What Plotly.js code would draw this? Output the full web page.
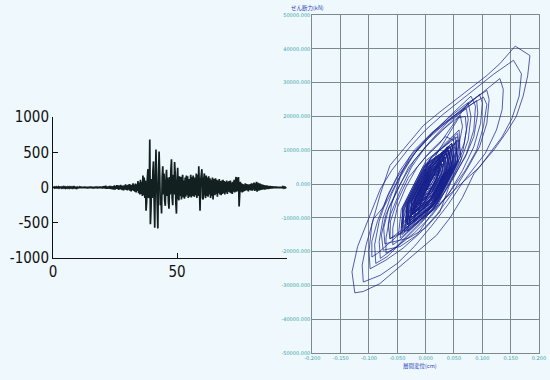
<!DOCTYPE html>
<html>
<head>
<meta charset="utf-8">
<script src="https://cdn.plot.ly/plotly-3.0.1.min.js"></script>
<style>html,body{margin:0;padding:0;background:#eef8fd;}#chart{width:550px;height:380px;}</style>
</head>
<body>
<div id="chart"></div>
<script>
// ---------- Left chart: acceleration time history (gal), sample step 0.25 s ----------
const dt = 0.25;
const acc = [
  0,4,-6,5, -4,7,-5,3, -6,8,-7,4, -3,6,-8,5, -6,9,-5,7,
  -8,6,-4,8, -7,5,-9,6, -5,8,-6,4, -9,7,-5,8, -6,10,-8,5,
  -7,9,-10,6, -8,11,-7,9, -10,8,-9,12, -7,10,-11,8, -12,9,-8,11,
  -9,13,-10,8, -11,10,-13,9, -8,12,-10,14, -13,11,-9,12, -10,15,-12,10,
  -14,18,-12,20, -16,25,-18,14, -20,16,-15,22, -18,24,-22,17, -25,20,-28,30,
  -30,22,-18,35, -24,30,-35,26, -20,38,-30,25, -36,28,-40,32, -28,45,-34,30,
  -42,36,-30,50, -45,40,-55,35, -38,60,-48,42, -60,55,-70,45, -50,90,-80,70,
  -100,110,-90,80, -120,170,-110,140, -150,100,-330,-200, 120,260,-150,-100,
  680,-520,-300,120, -150,230,370,-200, -570,120,540,100, -300,-580,150,510,
  200,-250,-150,-370, 150,300,-100,200, -180,-260,100,250, -120,140,-200,-300,
  150,-100,250,400, -150,-250,180,-100, 360,200,-220,-370, 100,280,-150,-180,
  160,-120,150,-170, 120,180,-140,100, -160,140,-130,170, -110,160,-150,120,
  -130,110,180,-140, 150,-120,170,-100, -130,140,-110,200, -150,180,-120,300,
  -200,-330,100,200, 260,-150,-170,120, 200,-100,-150,170, -120,140,-130,160,
  -100,130,-150,110, -120,140,-170,100, 120,-110,130,-90, 110,-130,100,-80,
  120,-100,90,-110, 100,-90,110,-80, 90,-100,80,-70, 100,-90,80,-60,
  90,-70,100,-80, 70,-90,80,-60, 110,-70,90,150, -60,140,-50,150,
  -270,-120,80,-60, 60,-70,50,-60, 40,-50,60,-40, 50,-40,45,-55,
  40,-35,50,-40, 60,-45,55,-30, 70,-50,60,-40, 80,-60,70,-45,
  60,-40,55,-35, 45,-30,40,-25, 35,-30,30,-25, 30,-20,25,-22,
  20,-18,22,-15, 18,-15,16,-12, 14,-12,15,-10, 12,-10,11,-9,
  10,-9,8,-8, 9,-7,8,-6, 7,-6,5,-5, 4
];
const time = acc.map((_, i) => i * dt);
const leftXTicks = [0, 50];
const leftYTicks = [-1000, -500, 0, 500, 1000];
const leftYLabels = ['-1000', '-500', '0', '500', '1000'];

// ---------- Right chart: shear force (kN) vs storey drift (cm) ----------
const disp = [
  0,0.01,0.022,0.018,0.0,-0.015,-0.02,-0.012,0.01,0.03,0.038,0.03,0.005,-0.025,-0.035,-0.028,-0.01,
  0.02,0.045,0.061,0.065,0.058,0.04,0.015,-0.015,-0.045,-0.063,
  -0.066,-0.06,-0.045,-0.02,0.01,0.04,0.07,0.108,0.112,0.108,0.095,0.075,0.05,0.02,-0.01,-0.04,-0.07,-0.098,
  -0.1,-0.095,-0.08,-0.063,-0.033,-0.004,0.025,0.055,0.084,0.108,0.131,0.158,
  0.184,0.18,0.172,0.16,0.143,0.12,0.102,0.085,0.065,0.043,0.019,-0.022,-0.051,-0.081,-0.11,-0.125,
  -0.13,-0.12,-0.11,-0.095,-0.08,-0.06,-0.03,0.0,0.03,0.06,0.09,0.12,0.155,
  0.169,0.165,0.152,0.135,0.119,0.095,0.066,0.04,0.01,-0.02,-0.05,-0.08,-0.11,
  -0.112,-0.105,-0.092,-0.072,-0.05,-0.028,0.002,0.037,0.07,0.1,0.131,
  0.137,0.135,0.125,0.105,0.066,0.022,-0.028,-0.06,-0.085,-0.095,
  -0.095,-0.085,-0.066,-0.045,-0.02,0.01,0.04,0.07,0.102,0.108,0.102,0.09,0.07,0.04,0.01,-0.016,-0.045,-0.075,
  -0.078,-0.07,-0.05,-0.03,0.0,0.03,0.06,0.09,0.092,0.085,0.07,0.045,0.025,0.0,-0.03,-0.072,
  -0.074,-0.065,-0.045,-0.02,0.01,0.04,0.072,0.075,0.068,0.05,0.025,0.0,-0.03,-0.063,-0.062,-0.05,-0.03,0.0,0.025,
  0.05,0.075,0.08,0.075,0.06,0.035,0.005,-0.025,-0.055,-0.08,-0.082,-0.075,-0.06,-0.04,-0.015,0.015,0.045,0.08,
  0.088,0.085,0.072,0.05,0.02,-0.01,-0.04,-0.068,-0.088,-0.09,-0.082,-0.068,-0.05,-0.025,0.005,0.035,0.065,0.095,
  0.1,0.097,0.085,0.065,0.04,0.01,-0.02,-0.05,-0.07,-0.07,-0.062,-0.045,-0.025,0.0,0.03,0.055,0.07,
  0.072,0.066,0.05,0.03,0.005,-0.02,-0.045,-0.058,-0.058,-0.05,-0.035,-0.015,0.01,0.035,
  0.049,0.058,0.015,-0.042,-0.041,-0.001,
  0.043,0.051,0.016,-0.032,-0.032,0.009,
  0.056,0.063,0.019,-0.038,-0.041,-0.005,
  0.040,0.047,0.012,-0.035,-0.032,0.006,
  0.046,0.054,0.012,-0.045,-0.040,0.005,
  0.052,0.056,0.018,-0.029,-0.032,-0.001,
  0.037,0.044,0.012,-0.032,-0.028,0.008,
  0.046,0.052,0.014,-0.035,-0.034,0.010,
  0.059,0.061,0.019,-0.032,-0.035,-0.002,
  0.040,0.045,0.015,-0.026,-0.025,0.002,
  0.034,0.040,0.011,-0.029,-0.025,0.009,
  0.043,0.049,0.014,-0.032,-0.030,0.002,
  0.037,0.042,0.014,-0.023,-0.022,0.010,
  0.046,0.048,0.015,-0.026,-0.025,0.001,
  0.031,0.037,0.012,-0.023,-0.020,0.009,
  0.040,0.047,0.011,-0.038,-0.033,0.000,
  0.034,0.037,0.013,-0.020,-0.017,0.012,
  0.043,0.046,0.014,-0.026,-0.024,0.000,
  0.028,0.033,0.010,-0.023,-0.018,0.010,
  0.037,0.040,0.014,-0.020,-0.018,0.005,
  0.031,0.034,0.012,-0.017,-0.014,0.009,
  0.034,0.037,0.011,-0.023,-0.019,0.004,
  0.028,0.031,0.013,-0.014,-0.011,0.009,
  0.031,0.034,0.011,-0.020,-0.015,0.005,
  0.025,0.029,0.012,-0.014,-0.010,0.008,
  0.028,0.029,0.012,-0.011,-0.008,0.006,
  0.022,0.025,0.011,-0.011,-0.007,0.009,
  0.025,0.026,0.012,-0.008,-0.004,0.007,
  0.019,0.022,0.011,-0.008,-0.003,0.009,
  0.022,0.022,0.012,-0.005,0.000,0.009,
  0.019,0.020,0.012,-0.002,0.002,0.008,
  0.016,0.017,0.011,-0.002,0.003,0.010,
  0.055,0.056,0.015,-0.032,-0.025,0.011,
  0.034,0.043,0.005,-0.048,-0.043,0.001,
  0.056,0.053,0.014,-0.028,-0.022,0.010,
  0.029,0.036,0.002,-0.043,-0.038,0.000,
  0.054,0.052,0.017,-0.021,-0.015,0.019,
  0.039,0.045,0.007,-0.042,-0.037,-0.004,
  0.024,0.026,-0.004,-0.042,-0.032,0.006,
  0.059,0.056,0.022,-0.013,-0.010,0.019,
  0.040,0.037,0.005,-0.029,-0.019,0.012,
  0.042,0.039,0.010,-0.021,-0.010,0.016,
  0.023,0.025,-0.003,-0.037,-0.027,0.007,
  0.051,0.047,0.018,-0.012,-0.006,0.015,
  0.022,0.023,-0.001,-0.032,-0.021,0.009,
  0.046,0.041,0.015,-0.011,-0.005,0.018,
  0.034,0.030,0.004,-0.023,-0.012,0.013,
  0.027,0.024,0.001,-0.024,-0.013,0.013,
  0.042,0.037,0.014,-0.009,-0.002,0.015,
  0.022,0.022,0.003,-0.020,-0.011,0.009,
  0.031,0.028,0.011,-0.008,-0.001,0.013,
  0.022,0.021,0.006,-0.014,-0.004,0.010
];
const shear = [
  0,3000,6000,3500,-2000,-6000,-7500,-4000,3000,9000,11000,7000,-2000,-9000,-11500,-7500,-1000,
  9000,16000,20300,17000,11000,4000,-3000,-9000,-14000,-16200,
  -12000,-6000,2000,9000,15000,19500,23500,27700,25000,18000,11000,5000,-2000,-9000,-14500,-19000,-22500,-25100,
  -20000,-12000,-3000,5500,11400,17300,21300,25200,29200,32100,35600,40800,
  38000,32000,26000,20000,15400,10000,6500,3000,-4000,-10000,-15200,-21100,-25100,-29500,-31800,-32200,
  -26000,-18500,-14200,-8000,-1500,4000,10500,16000,20500,24500,28500,32500,36600,
  32600,26000,19300,14000,10400,5000,600,-6000,-12500,-18500,-23500,-27000,-29000,
  -24000,-18000,-10300,-6300,1000,8000,13500,18500,23000,27000,31200,
  28000,22000,16000,9000,600,-6300,-12200,-17000,-20500,-21600,
  -17000,-11000,-3000,4000,10000,15000,19000,22500,25700,23500,17000,10000,4000,-3000,-9000,-15200,-18500,-19600,
  -15000,-9000,-2000,5000,11000,16000,21000,24700,21000,14000,8000,1000,-8300,-13000,-16000,-17700,
  -13000,-7000,0,7000,13000,18500,22300,19000,12000,5000,-3000,-9000,-13500,-16200,-11000,-5000,2000,8000,12000,
  18000,24000,20000,13000,6000,-2000,-9000,-14000,-19000,-22000,-17000,-10000,-3000,4000,10000,15500,20500,26000,
  23000,16000,9000,2000,-6000,-12000,-17000,-21500,-23500,-18000,-11000,-4000,2000,8000,13500,18000,22000,26500,
  24000,18000,11000,4000,-3000,-9500,-14500,-18500,-20500,-16000,-9000,-2000,5000,11000,16000,19500,20000,
  16000,10000,4000,-2000,-8000,-12500,-16500,-18000,-13000,-7000,-1000,5000,10000,14000,
  13000,6500,-7500,-15000,-7500,5500,
  11000,5500,-6000,-12000,-6000,7500,
  15000,7500,-7000,-14000,-7000,5000,
  10000,5000,-6500,-13000,-6500,6000,
  12000,6000,-8000,-16000,-8000,7000,
  14000,7000,-5500,-11000,-5500,4500,
  9000,4500,-6000,-12000,-6000,6000,
  12000,6000,-6500,-13000,-6500,8000,
  16000,8000,-6000,-12000,-6000,5000,
  10000,5000,-5000,-10000,-5000,4000,
  8000,4000,-5500,-11000,-5500,5500,
  11000,5500,-6000,-12000,-6000,4500,
  9000,4500,-4500,-9000,-4500,6000,
  12000,6000,-5000,-10000,-5000,3500,
  7000,3500,-4500,-9000,-4500,5000,
  10000,5000,-7000,-14000,-7000,4000,
  8000,4000,-4000,-8000,-4000,5500,
  11000,5500,-5000,-10000,-5000,3000,
  6000,3000,-4500,-9000,-4500,4500,
  9000,4500,-4000,-8000,-4000,3500,
  7000,3500,-3500,-7000,-3500,4000,
  8000,4000,-4500,-9000,-4500,3000,
  6000,3000,-3000,-6000,-3000,3500,
  7000,3500,-4000,-8000,-4000,2500,
  5000,2500,-3000,-6000,-3000,3000,
  6000,3000,-2500,-5000,-2500,2000,
  4000,2000,-2500,-5000,-2500,2500,
  5000,2500,-2000,-4000,-2000,1500,
  3000,1500,-2000,-4000,-2000,2000,
  4000,2000,-1500,-3000,-1500,1500,
  3000,1500,-1000,-2000,-1000,1000,
  2000,1000,-1000,-2000,-1000,0,
  13000,6500,-7000,-14000,-7000,5000,
  10000,5000,-7500,-15000,-7500,7000,
  14000,7000,-6000,-12000,-6000,4500,
  9000,4500,-6500,-13000,-6500,6000,
  12000,6000,-5500,-11000,-5500,5500,
  11000,5500,-7000,-14000,-7000,4000,
  8000,4000,-6000,-12000,-6000,6500,
  13000,6500,-4500,-9000,-4500,5000,
  10000,5000,-5500,-11000,-5500,4500,
  9000,4500,-5000,-10000,-5000,3500,
  7000,3500,-5500,-11000,-5500,5500,
  11000,5500,-4000,-8000,-4000,3000,
  6000,3000,-5000,-10000,-5000,5000,
  10000,5000,-3500,-7000,-3500,4000,
  8000,4000,-4500,-9000,-4500,3500,
  7000,3500,-4000,-8000,-4000,4500,
  9000,4500,-3000,-6000,-3000,2500,
  5000,2500,-3500,-7000,-3500,3000,
  6000,3000,-2500,-5000,-2500,2000,
  4000,2000,-3000,-6000,-3000,0
];
const dispTicks = [-0.2,-0.15,-0.1,-0.05,0,0.05,0.1,0.15,0.2];
const dispLabels = ['-0.200','-0.150','-0.100','-0.050','0.000','0.050','0.100','0.150','0.200'];
const shearTicks = [-50000,-40000,-30000,-20000,-10000,0,10000,20000,30000,40000,50000];
const shearLabels = ['-50000.000','-40000.000','-30000.000','-20000.000','-10000.000','0.000','10000.000','20000.000','30000.000','40000.000','50000.000'];
const shearTitle = 'せん断力(kN)';
const dispTitle = '層間変位(cm)';

const W = 550, H = 380;
const bg = '#eef8fd';
const gridC = '#7c898f';
const tickC = '#3aa3a3';
const cjk = '"Noto Sans CJK JP", "Noto Sans", sans-serif';
const narrow = '"Liberation Sans Narrow", "DejaVu Sans Condensed", "Liberation Sans", sans-serif';

const traces = [
  {x: time, y: acc, type: 'scatter', mode: 'lines', xaxis: 'x', yaxis: 'y',
   line: {color: '#132020', width: 1.7}, hoverinfo: 'skip'},
  {x: disp, y: shear, type: 'scatter', mode: 'lines', xaxis: 'x2', yaxis: 'y2',
   line: {color: 'rgba(22,32,140,0.8)', width: 0.9}, hoverinfo: 'skip'}
];

const layout = {
  width: W, height: H,
  margin: {l: 0, r: 0, t: 0, b: 0},
  paper_bgcolor: bg, plot_bgcolor: bg,
  showlegend: false,
  xaxis: {
    domain: [53/W, 287/W], range: [0, 94.3],
    tickvals: leftXTicks, ticktext: leftXTicks.map(String),
    ticks: 'inside', ticklen: 5, tickcolor: '#111', tickwidth: 1,
    showline: true, linecolor: '#111', linewidth: 1,
    showgrid: false, zeroline: false,
    tickfont: {family: narrow, size: 15, color: '#111'}
  },
  yaxis: {
    domain: [1 - 258/H, 1 - 117/H], range: [-1000, 1000],
    tickvals: leftYTicks, ticktext: leftYLabels,
    ticks: 'inside', ticklen: 5, tickcolor: '#111', tickwidth: 1,
    showline: true, linecolor: '#111', linewidth: 1,
    showgrid: false, zeroline: false,
    tickfont: {family: narrow, size: 15, color: '#111'}
  },
  xaxis2: {
    domain: [312.3/W, 539/W], range: [-0.2, 0.2], anchor: 'y2',
    tickvals: dispTicks, ticktext: dispLabels,
    showgrid: true, gridcolor: gridC, gridwidth: 1,
    showline: true, mirror: true, linecolor: gridC, linewidth: 1,
    zeroline: false, ticks: '',
    tickfont: {family: '"DejaVu Sans", sans-serif', size: 5, color: tickC}
  },
  yaxis2: {
    domain: [1 - 353/H, 1 - 15/H], range: [-50000, 50000], anchor: 'x2',
    tickvals: shearTicks, ticktext: shearLabels,
    showgrid: true, gridcolor: gridC, gridwidth: 1,
    showline: true, mirror: true, linecolor: gridC, linewidth: 1,
    zeroline: false, ticks: '',
    tickfont: {family: '"DejaVu Sans", sans-serif', size: 5, color: tickC}
  },
  annotations: [
    {text: shearTitle, xref: 'paper', yref: 'paper', x: 289/W, y: 1 - 8/H,
     xanchor: 'left', yanchor: 'middle', showarrow: false,
     font: {family: cjk, size: 5.5, color: '#3044c0'}},
    {text: dispTitle, xref: 'paper', yref: 'paper', x: 420/W, y: 1 - 366/H,
     xanchor: 'center', yanchor: 'middle', showarrow: false,
     font: {family: cjk, size: 5.5, color: '#3044c0'}}
  ]
};

Plotly.newPlot('chart', traces, layout, {staticPlot: true, displayModeBar: false});
</script>
</body>
</html>
